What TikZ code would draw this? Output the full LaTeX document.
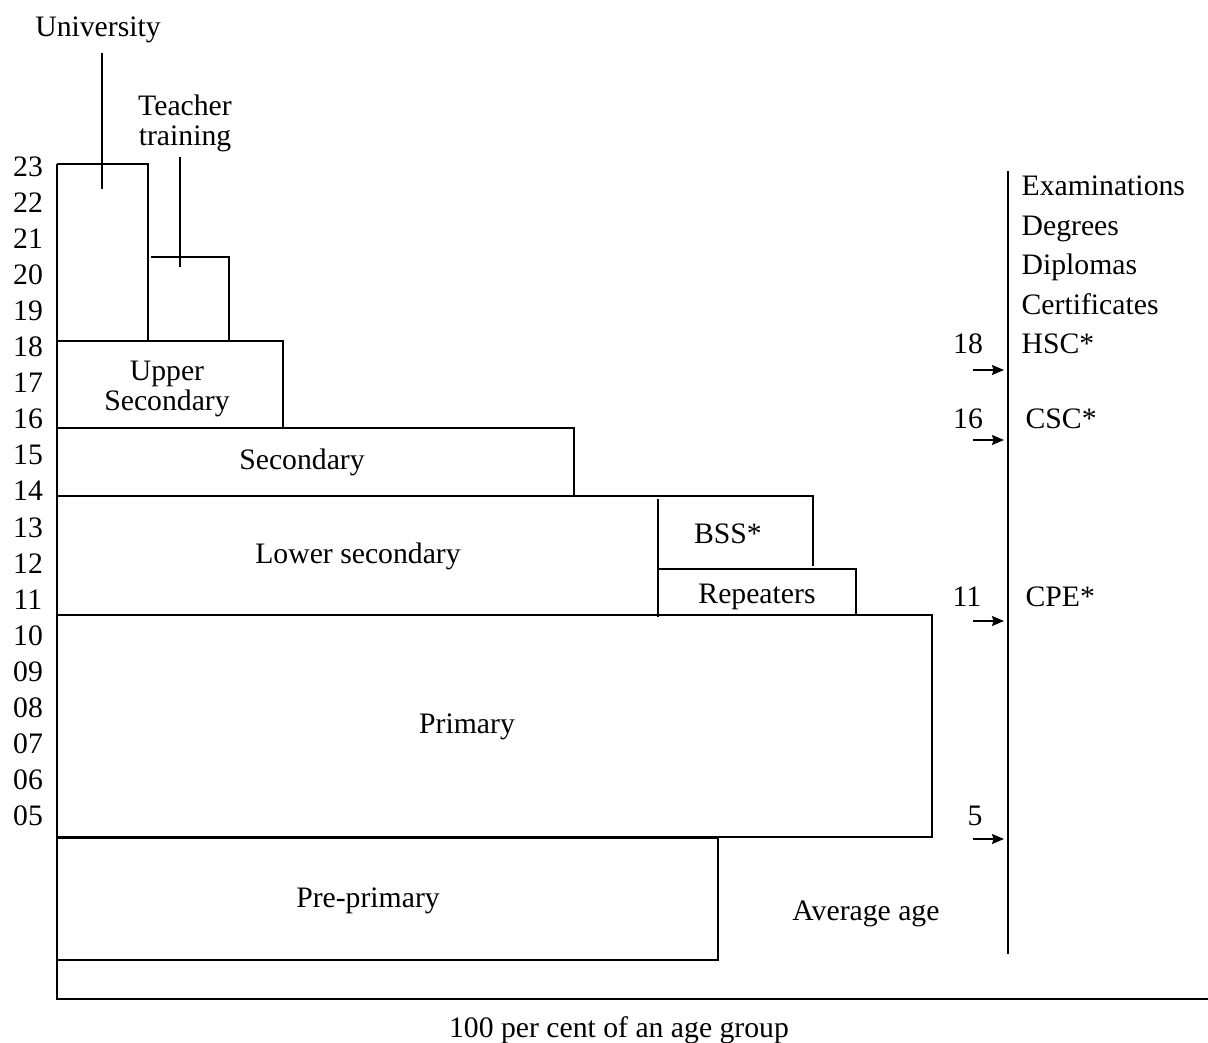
\documentclass[tikz,border=0pt]{standalone}
\usepackage{fontspec}
\setmainfont{Liberation Serif}
\usetikzlibrary{arrows.meta}
\begin{document}
\begin{tikzpicture}[x=1pt,y=-1pt,
  line width=1.3pt,
  lbl/.style={font=\fontsize{29.7}{35}\selectfont, inner sep=0pt, anchor=base},
  leftlbl/.style={lbl, anchor=base west},
  agearrow/.style={-{Stealth[length=12pt,width=10pt,inset=1.5pt]}, line width=1.2pt}]
\useasboundingbox (0,0) rectangle (1208,1042);

% age scale on the left
\foreach \a [count=\i from 0] in {23,22,21,20,19,18,17,16,15,14,13,12,11,10,09,08,07,06,05}
  \node[lbl] (age\a) at (28,176+36.1*\i) {\a};

% axes
\draw (57,164) -- (57,999) -- (1208,999);

% university and teacher training
\draw (57,164) -- (148,164) -- (148,340);
\draw (151,257) -- (229,257) -- (229,340);
\node[lbl] (univ) at (98,36) {University};
\node[lbl] (teach) at (185,115) {Teacher};
\node[lbl] (teachb) at (185,145) {training};
\coordinate (univtop) at (102,53);
\coordinate (univend) at (102,189);
\coordinate (teachtop) at (180,157);
\coordinate (teachend) at (180,267);
\draw (univtop) -- (univend);
\draw (teachtop) -- (teachend);

% school levels
\draw (57,341) -- (283,341) -- (283,428);
\node[lbl] (upper) at (167,380) {Upper};
\node[lbl] (upperb) at (167,410) {Secondary};
\draw (57,428) -- (574,428) -- (574,496);
\node[lbl] (sec) at (302,469) {Secondary};
\draw (57,496) -- (813,496) -- (813,566);
\node[lbl] (lower) at (358,563) {Lower secondary};
\draw (658,499) -- (658,617);
\node[lbl] (bss) at (728,543) {BSS*};
\draw (658,569) -- (856,569) -- (856,615);
\node[lbl] (rep) at (757,603) {Repeaters};
\draw (57,615) -- (932,615) -- (932,837) -- (57,837);
\node[lbl] (prim) at (467,733) {Primary};
\draw (57,838) -- (718,838) -- (718,960) -- (57,960);
\node[lbl] (pre) at (368,907) {Pre-primary};
\node[lbl] (avg) at (866,920) {Average age};
\node[lbl] (pct) at (619,1037) {100 per cent of an age group};

% examinations column
\draw (1008,171) -- (1008,954);
\node[leftlbl] (exam) at (1021,195) {Examinations};
\node[leftlbl] (deg) at (1021,235) {Degrees};
\node[leftlbl] (dip) at (1021,274) {Diplomas};
\node[leftlbl] (cert) at (1021,314) {Certificates};
\node[leftlbl] (hsc) at (1021,353) {HSC*};
\node[leftlbl] (csc) at (1025,428) {CSC*};
\node[leftlbl] (cpe) at (1025,606) {CPE*};

\node[lbl] (e18) at (968,353) {18};
\node[lbl] (e16) at (968,428) {16};
\node[lbl] (e11) at (967,606) {11};
\node[lbl] (e5) at (975,825) {5};
\coordinate (t18) at (1004,370);
\coordinate (t16) at (1004,440);
\coordinate (t11) at (1004,621);
\coordinate (t5) at (1004,839);
\foreach \k in {18,16,11,5}
  \draw[agearrow] ([xshift=-31pt]t\k) -- (t\k);
\end{tikzpicture}
\end{document}
